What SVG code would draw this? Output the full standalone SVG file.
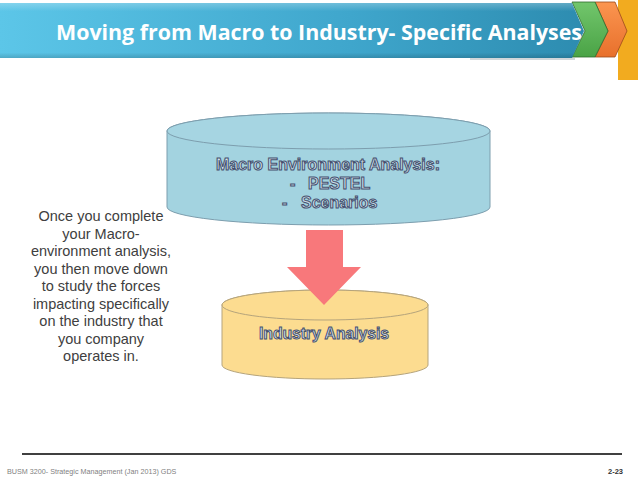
<svg xmlns="http://www.w3.org/2000/svg" width="638" height="479" viewBox="0 0 638 479">
<defs>
<linearGradient id="gBlue" x1="0" y1="0" x2="1" y2="0">
<stop offset="0" stop-color="#5cc6e8"/>
<stop offset="0.6" stop-color="#3fa6cc"/>
<stop offset="1" stop-color="#2d8cb0"/>
</linearGradient>
<linearGradient id="gBlueV" x1="0" y1="0" x2="0" y2="1">
<stop offset="0" stop-color="#ffffff" stop-opacity="0.25"/>
<stop offset="0.15" stop-color="#ffffff" stop-opacity="0"/>
<stop offset="0.9" stop-color="#000000" stop-opacity="0"/>
<stop offset="1" stop-color="#000000" stop-opacity="0.15"/>
</linearGradient>
<linearGradient id="gGreen" x1="0" y1="0" x2="0" y2="1">
<stop offset="0" stop-color="#72c66c"/>
<stop offset="1" stop-color="#4aa346"/>
</linearGradient>
<linearGradient id="gOrange" x1="0" y1="0" x2="0" y2="1">
<stop offset="0" stop-color="#fb9550"/>
<stop offset="1" stop-color="#e8702c"/>
</linearGradient>
</defs>
<style>
.title{font-family:"Open Sans","Liberation Sans",sans-serif;font-weight:bold;font-size:22px;fill:#ffffff;}
.cylTxt{font-family:"Liberation Sans",Arial,sans-serif;font-weight:bold;font-size:16px;fill:#cfe0ec;stroke:#46506e;stroke-width:1px;}
.note{font-family:"Liberation Sans",Arial,sans-serif;font-size:14.5px;fill:#404040;text-anchor:middle;}
.foot{font-family:"Liberation Sans",Arial,sans-serif;font-size:7.2px;fill:#7f7f7f;}
.page{font-family:"Liberation Sans",Arial,sans-serif;font-size:7.5px;font-weight:bold;fill:#333333;text-anchor:end;}
</style>
<rect width="638" height="479" fill="#ffffff"/>
<g id="header">
<rect x="618" y="0" width="20" height="80" fill="#f2ab1f"/>
<polygon points="595,2 615,2 627,31 615,57 595,57 608,31" fill="url(#gOrange)" stroke="#9a4a1a" stroke-width="0.8"/>
<polygon points="572,2 595,2 608,31 595,57 572,57 585,31" fill="url(#gGreen)" stroke="#2f6a2c" stroke-width="0.8"/>
<polygon points="0,3 572,3 584,31 572,58 0,58" fill="url(#gBlue)"/>
<polygon points="0,3 572,3 584,31 572,58 0,58" fill="url(#gBlueV)"/>
<line x1="470" y1="59" x2="575" y2="59" stroke="#6b7c86" stroke-width="1.2" opacity="0.6"/>
<text class="title" x="56" y="40" textLength="526" lengthAdjust="spacingAndGlyphs">Moving from Macro to Industry- Specific Analyses</text>
</g>
<g id="industry">
<path d="M222,305 L222,365 A103,14 0 0 0 428,365 L428,305 A103,15 0 0 0 222,305 Z" fill="#fcdc90" stroke="#b5a47c" stroke-width="1"/>
<ellipse cx="325" cy="305" rx="103" ry="15" fill="#fcdc90" stroke="#b5a47c" stroke-width="1"/>
<text class="cylTxt" x="259" y="339" textLength="130" lengthAdjust="spacingAndGlyphs">Industry Analysis</text>
</g>
<g id="connectors">
<polygon points="306,230 343,230 343,267 361,267 324,305 287,267 306,267" fill="#f8787b"/>
</g>
<g id="macro">
<path d="M167,131 L167,207 A161.5,18 0 0 0 490,207 L490,131 A161.5,18 0 0 0 167,131 Z" fill="#a3d3e0" stroke="#7d9eae" stroke-width="1"/>
<ellipse cx="328.5" cy="131" rx="161.5" ry="18" fill="#a6d5e2" stroke="#7d9eae" stroke-width="1"/>
<text class="cylTxt" x="216" y="170" textLength="224" lengthAdjust="spacingAndGlyphs">Macro Environment Analysis:</text>
<text class="cylTxt" y="189"><tspan x="290">-</tspan><tspan x="308">PESTEL</tspan></text>
<text class="cylTxt" y="208"><tspan x="282">-</tspan><tspan x="301">Scenarios</tspan></text>
</g>
<g id="note">
<text class="note" x="101" y="221">Once you complete</text>
<text class="note" x="101" y="238.5">your Macro-</text>
<text class="note" x="101" y="256">environment analysis,</text>
<text class="note" x="101" y="273.5">you then move down</text>
<text class="note" x="101" y="291">to study the forces</text>
<text class="note" x="101" y="308.5">impacting specifically</text>
<text class="note" x="101" y="326">on the industry that</text>
<text class="note" x="101" y="343.5">you company</text>
<text class="note" x="101" y="361">operates in.</text>
</g>
<g id="footer">
<line x1="22" y1="454" x2="622" y2="454" stroke="#000000" stroke-width="1.3"/>
<text class="foot" x="7" y="474">BUSM 3200- Strategic Management (Jan 2013) GDS</text>
<text class="page" x="623" y="474">2-23</text>
</g>
</svg>
